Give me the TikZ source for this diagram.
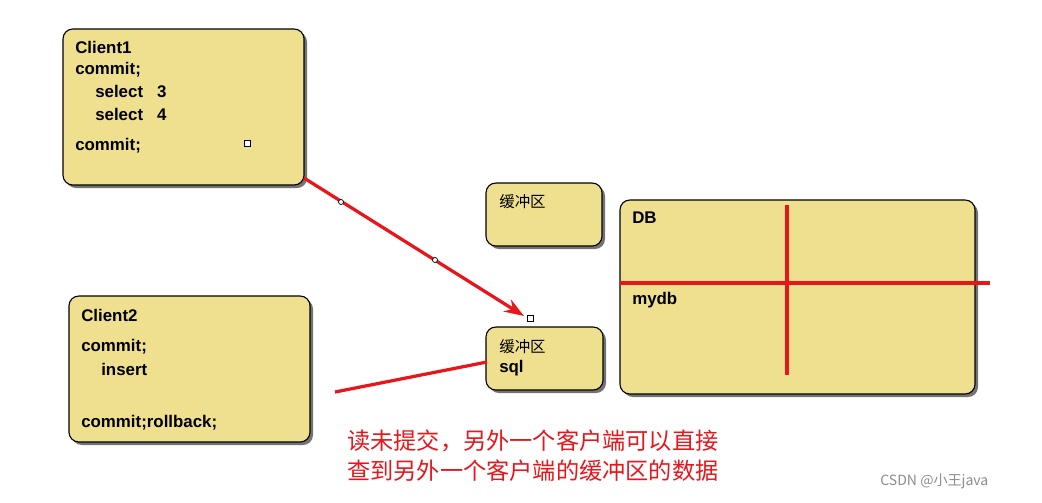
\documentclass[tikz,border=0pt]{standalone}
\usepackage{fontspec}
\setmainfont{Liberation Sans}
\newfontfamily\cjk{Noto Sans CJK SC}
\usetikzlibrary{positioning,arrows.meta}
\definecolor{boxfill}{HTML}{EFE08F}
\definecolor{redline}{HTML}{E8161B}
\tikzset{
	panel/.style={draw=black, fill=boxfill, rounded corners=7pt, line width=0.8pt},
	shade/.style={fill=black!55, rounded corners=7pt},
	txt/.style={anchor=west, inner sep=0pt, font=\bfseries\fontsize{12}{14}\selectfont},
	cn/.style={anchor=west, inner sep=0pt, font=\cjk\fontsize{11}{13}\selectfont},
	redtip/.style={redline, line width=2.3pt}
}
\begin{document}
\begin{tikzpicture}[x=0.025cm, y=-0.025cm]
	\useasboundingbox (0,0) rectangle (1042,502);
	
	% panels
	\foreach \a/\b/\c/\d in {63/29/304/185, 69/296/310/442, 486/183/602/246, 486/327/603/390, 620/200/975/394}{
		\fill [shade] (\a+3,\b+3) rectangle (\c+3,\d+3);
		\draw [panel] (\a,\b) rectangle (\c,\d);
	}
	
	\node [txt] (c1) at (75,47) {Client1};
	\node [txt] (c1a) at (75,70) {commit;};
	\node [txt] (c1b) at (95,91) {select\ \ \ 3};
	\node [txt] (c1c) at (95,114) {select\ \ \ 4};
	\node [txt] (c1d) at (75,146) {commit;};
	\draw [fill=white, line width=0.6pt] (244,140) rectangle (250,146);
	
	\node [txt] (c2) at (81,315) {Client2};
	\node [txt] (c2a) at (81,347) {commit;};
	\node [txt] (c2b) at (101,369) {insert};
	\node [txt] (c2c) at (81,423) {commit;rollback;};
	
	\node [cn] (buf1) at (499,202) {缓冲区};
	\node [cn] (buf2) at (499,347) {缓冲区};
	\node [txt] (sql) at (499,368) {sql};
	
	\node [txt] (db) at (632,218) {DB};
	\node [txt] (mydb) at (632,300) {mydb};
	
	\coordinate (v1) at (787,205);
	\coordinate (v2) at (787,375);
	\coordinate (h1) at (620,283);
	\coordinate (h2) at (990,283);
	\draw [redtip] (v1) -- (v2);
	\draw [redtip] (h1) -- (h2);
	
	% arrows
	\coordinate (from) at (304,178);
	\coordinate (to) at (524,316);
	\draw [redtip, -{Stealth[length=14pt,width=10pt]}] (from) -- (to);
	\draw [fill=white, line width=0.5pt] (341,202) circle (2.5);
	\draw [fill=white, line width=0.5pt] (435,260) circle (2.5);
	\draw [fill=white, line width=0.6pt] (527,315) rectangle (533,321);
	\coordinate (l1) at (335,392);
	\coordinate (l2) at (487,362);
	\draw [redtip] (l1) -- (l2);
	
	\node [anchor=west, inner sep=0pt, text=redline, font=\cjk\fontsize{16.5}{20}\selectfont] (note1) at (347,441) {读未提交，另外一个客户端可以直接};
	\node [anchor=west, inner sep=0pt, text=redline, font=\cjk\fontsize{16.5}{20}\selectfont] (note2) at (347,471) {查到另外一个客户端的缓冲区的数据};
	
	\node [anchor=west, inner sep=0pt, text=black!45, font=\cjk\fontsize{10}{12}\selectfont] (mark) at (880,481) {CSDN @小王java};
\end{tikzpicture}
\end{document}
